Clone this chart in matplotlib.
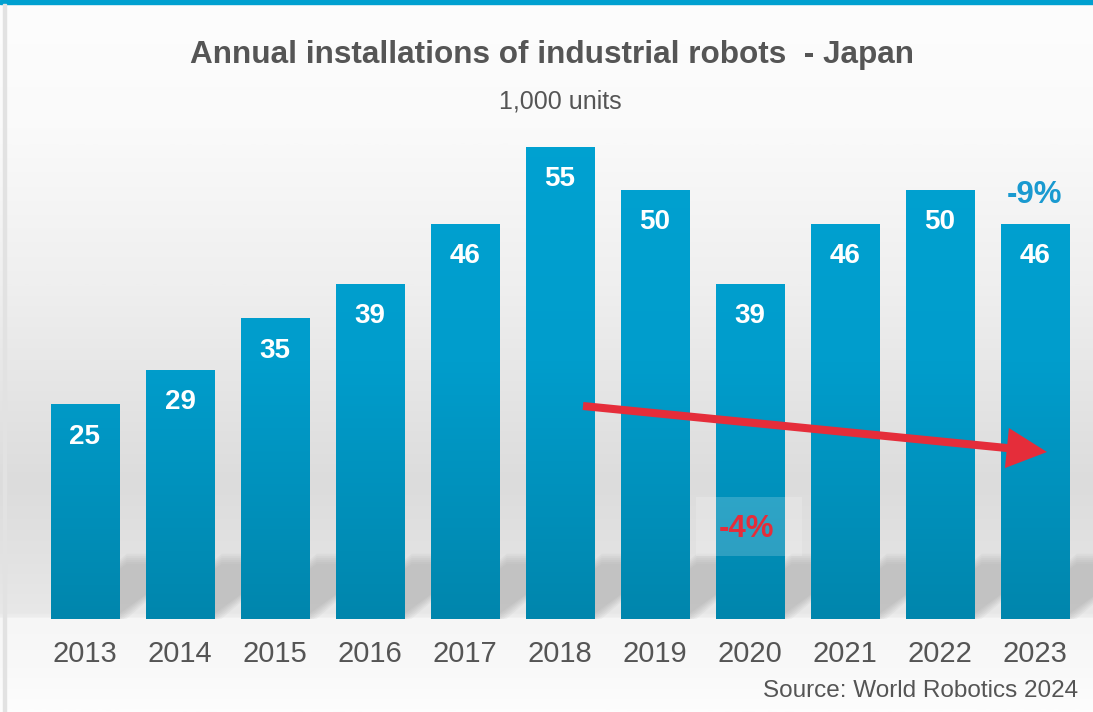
import numpy as np
import matplotlib.pyplot as plt
from matplotlib.colors import LinearSegmentedColormap, Normalize
from matplotlib.patches import Rectangle, Polygon

# data
years = ['2013', '2014', '2015', '2016', '2017', '2018', '2019', '2020', '2021', '2022', '2023']
installs = [25, 29, 35, 39, 46, 55, 50, 39, 46, 50, 46]
title = 'Annual installations of industrial robots  - Japan'
subtitle = '1,000 units'
source = 'Source: World Robotics 2024'
change_last = '-9%'
change_trend = '-4%'

plt.rcParams['font.family'] = ['Liberation Sans', 'DejaVu Sans']

fig = plt.figure(figsize=(10.93, 7.12), dpi=100)

# background gradient
bg = fig.add_axes([0, 0, 1, 1], zorder=-5)
bg_cmap = LinearSegmentedColormap.from_list('bg', [
    (0.0, '#fdfdfd'), (0.18, '#fafafa'), (0.4, '#efefef'), (0.55, '#e5e5e5'),
    (0.68, '#dcdcdc'), (0.78, '#e2e2e2'), (0.865, '#e8e8e8'), (0.87, '#f6f6f6'),
    (0.94, '#f9f9f9'), (1.0, '#fdfdfd')])
bg.imshow(np.linspace(0, 1, 400).reshape(-1, 1), cmap=bg_cmap, aspect='auto', extent=[0, 1, 1, 0])
bg.set_xlim(0, 1)
bg.set_ylim(1, 0)
bg.axis('off')
# top blue band and left border
bg.add_patch(Rectangle((0, 0), 1, 0.005, color='#00a0d0'))
bg.add_patch(Rectangle((0.003, 0.005), 0.0025, 0.995, color='#e2e2e2'))

# main axes
px_per_unit = 8.58
ax = fig.add_axes([0, 1 - 619 / 712, 1, 619 / 712])
ax.set_facecolor('none')
x = np.arange(len(years))
w = 0.72

# slanted floor shadows (seen in the gaps), blurred by layering
dx, dy = 0.8, 7.0
for xi in x:
    xl, xr = xi - w / 2, xi + w / 2
    for k in range(6):
        s = 0.03 * (k - 2.5)
        poly = Polygon([(xl, 0), (xr + s, 0), (xr + dx + s, dy + 8 * s), (xl + dx, dy + 8 * s)],
                       closed=True, color='#9a9a9a', alpha=0.09, lw=0, zorder=1)
        ax.add_patch(poly)

bar_cmap = LinearSegmentedColormap.from_list('bar', ['#0086ad', '#009dcc', '#00a2d2'])
ynorm = Normalize(0, 60)
bars = ax.bar(x, installs, width=w, color='none', zorder=2)
for xi, v in zip(x, installs):
    grad = np.linspace(v, 0, 200).reshape(-1, 1)
    ax.imshow(grad, cmap=bar_cmap, norm=ynorm, aspect='auto',
              extent=[xi - w / 2, xi + w / 2, 0, v], zorder=2)
    ax.text(xi, v - 32 / px_per_unit, str(v), ha='center', va='center',
            color='white', fontsize=20, fontweight='bold', zorder=5)
    ax.text(xi, -35 / px_per_unit, years[xi], ha='center', va='center',
            color='#555555', fontsize=21, clip_on=False)

ax.set_xlim(-85 / 95, (1093 - 85) / 95)
ax.set_ylim(0, 619 / px_per_unit)
ax.axis('off')

# trend arrow
x0, y0 = (583 - 85) / 95, (619 - 406) / px_per_unit
x1, y1 = (1047 - 85) / 95, (619 - 452) / px_per_unit
ax.annotate('', xy=(x1, y1), xytext=(x0, y0), zorder=6,
            arrowprops=dict(arrowstyle='simple,head_length=1.0,head_width=1.0,tail_width=0.2',
                            mutation_scale=29, color='#e52d3a', lw=0,
                            shrinkA=0, shrinkB=0))

# -4% box
ax.add_patch(Rectangle(((696 - 85) / 95, (619 - 556) / px_per_unit), 106 / 95, 59 / px_per_unit,
                       color='white', alpha=0.18, lw=0, zorder=4))
ax.text((746 - 85) / 95, (619 - 529) / px_per_unit, change_trend, ha='center', va='center',
        color='#e52d3a', fontsize=22.5, fontweight='bold', zorder=6)
ax.text(x[-1], (619 - 195) / px_per_unit, change_last, ha='center', va='center',
        color='#1a9ad0', fontsize=22.5, fontweight='bold', zorder=6)

fig.text(552 / 1093, 1 - 55 / 712, title, ha='center', va='center',
         color='#555555', fontsize=22.7, fontweight='bold')
fig.text(560 / 1093, 1 - 101 / 712, subtitle, ha='center', va='center',
         color='#555555', fontsize=18)
fig.text(1078 / 1093, 1 - 691 / 712, source, ha='right', va='center',
         color='#555555', fontsize=17.5)

fig.savefig('out.png', dpi=100)
